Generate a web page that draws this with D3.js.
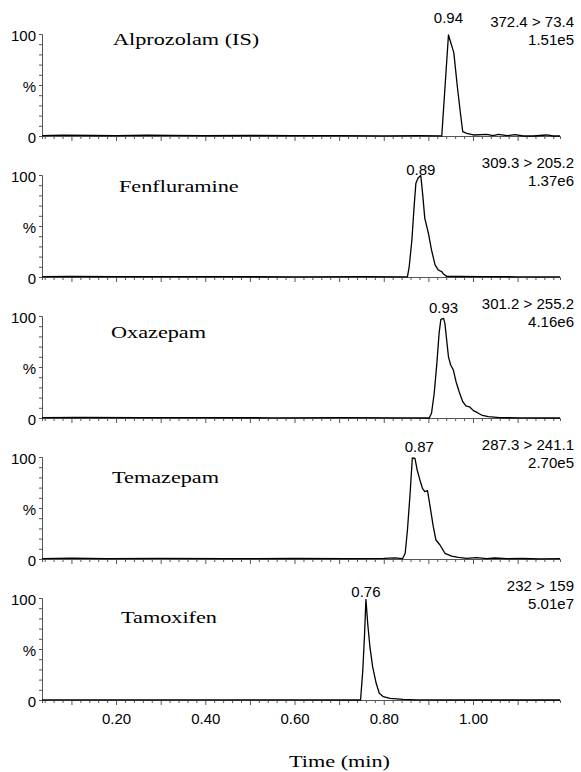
<!DOCTYPE html>
<html>
<head>
<meta charset="utf-8">
<script src="https://cdn.jsdelivr.net/npm/d3@7"></script>
<style>
  body { margin: 0; background: #fff; }
  svg { display: block; }
  .axis path, .axis line { stroke: #555; }
  .axis text { font-family: "Liberation Sans", Arial, sans-serif; font-size: 15px; fill: #000; }
  .sans { font-family: "Liberation Sans", Arial, sans-serif; font-size: 15px; fill: #000; }
  .serif { font-family: "Liberation Serif", "Times New Roman", serif; font-size: 17.5px; fill: #000; }
</style>
</head>
<body>
<svg id="chart" width="581" height="772"></svg>
<script>
// chart values
const compounds = ['Alprozolam (IS)', 'Fenfluramine', 'Oxazepam', 'Temazepam', 'Tamoxifen'];
const transitions = ['372.4 > 73.4', '309.3 > 205.2', '301.2 > 255.2', '287.3 > 241.1', '232 > 159'];
const intensities = ['1.51e5', '1.37e6', '4.16e6', '2.70e5', '5.01e7'];
const peakTimes = ['0.94', '0.89', '0.93', '0.87', '0.76'];
const xTickLabels = [0.2, 0.4, 0.6, 0.8, 1.0];

// [time (min), %]
const alprozolamTrace = [[0.034,0.4],[0.08,0.8],[0.15,0.5],[0.2,0.3],[0.27,0.9],[0.32,0.6],[0.4,0.3],[0.5,0.5],
  [0.6,0.3],[0.7,0.4],[0.8,0.2],[0.88,0.3],[0.928,0.2],[0.930,0],[0.945,99],[0.957,81.7],[0.965,48],[0.971,25.5],
  [0.977,4.2],[0.986,2.6],[1.001,1],[1.031,1.6],[1.045,0.3],[1.057,1.6],[1.076,0.3],[1.094,1.3],[1.113,0],
  [1.135,0],[1.165,1],[1.180,0],[1.195,0]];
const fenfluramineTrace = [[0.034,0.3],[0.1,0.5],[0.2,0.3],[0.3,0.4],[0.45,0.3],[0.6,0.2],[0.75,0.3],[0.853,0.2],
  [0.857,10],[0.863,36],[0.868,69],[0.872,92],[0.877,97],[0.883,99.5],[0.887,82],[0.892,57.5],[0.900,43],
  [0.907,26.5],[0.915,11.8],[0.922,6.9],[0.930,5.2],[0.934,2.9],[0.941,0.6],[0.97,0.5],[1.02,0.3],[1.1,0.2],[1.195,0.1]];
const oxazepamTrace = [[0.034,0.3],[0.12,0.5],[0.25,0.3],[0.4,0.4],[0.55,0.2],[0.7,0.3],[0.85,0.2],[0.902,0],
  [0.907,4.6],[0.913,24],[0.919,53.6],[0.924,83],[0.928,96.8],[0.934,97.7],[0.937,92.8],[0.941,76.5],[0.945,60],
  [0.950,52],[0.956,47],[0.962,35.6],[0.969,25.8],[0.977,16],[0.984,11.8],[0.992,11],[1.001,7.2],[1.010,5.2],
  [1.019,2.9],[1.034,1.3],[1.060,0.3],[1.105,0.2],[1.195,0]];
const temazepamTrace = [[0.034,0.4],[0.1,0.8],[0.18,0.4],[0.3,0.6],[0.45,0.4],[0.6,0.5],[0.72,0.3],[0.8,0.6],
  [0.825,1.2],[0.842,0.3],[0.848,5.6],[0.853,28],[0.859,64],[0.864,99],[0.870,98.7],[0.875,87],[0.881,77.5],
  [0.887,69],[0.892,66],[0.898,67],[0.904,51],[0.911,31.7],[0.917,18.6],[0.926,13.7],[0.937,5.6],[0.952,2.9],
  [0.967,1.6],[0.986,0.6],[1.008,1.3],[1.031,0.3],[1.049,1],[1.076,0.3],[1.11,0.5],[1.15,0.2],[1.195,0.3]];
const tamoxifenTrace = [[0.034,0.2],[0.2,0.2],[0.4,0.2],[0.6,0.2],[0.748,0],[0.753,29],[0.757,65],[0.760,98.7],
  [0.764,75],[0.769,52],[0.775,32.7],[0.783,16.4],[0.790,6.6],[0.799,3.3],[0.814,1.6],[0.844,0.7],[0.874,0.1],
  [1.0,0],[1.195,0]];
const traces = [alprozolamTrace, fenfluramineTrace, oxazepamTrace, temazepamTrace, tamoxifenTrace];

// layout tweaks per panel (pixels)
const nameX = [113, 119, 111, 112, 121];
const nameDy = [-91, -85, -80, -76, -77];
const peakDy = [-112.7, -102, -104.7, -107.3, -102.7];
const peakDx = [0, 0, 0, 7, 0];

const width = 581;
const left = 42, right = 560;
const firstBase = 136, step = 141, panelH = 102;
const serifStretch = 1.27;

const svg = d3.select('#chart');

const x = d3.scaleLinear()
  .domain([0.034, 1.195])
  .range([left, right]);

const tickVals = d3.range(2, 60).map(i => i / 50);
const isMajor = v => Math.abs(v * 10 - Math.round(v * 10)) < 1e-6;
const isLabel = v => xTickLabels.some(l => Math.abs(l - v) < 1e-6);

const line = d3.line().x(d => x(d[0]));

traces.forEach((trace, i) => {
  const base = firstBase + step * i;
  const y = d3.scaleLinear().domain([0, 100]).range([base, base - panelH]);
  const g = svg.append('g').attr('class', 'panel');
  const last = i === traces.length - 1;

  // x axis
  const xAxisG = g.append('g')
    .attr('class', 'axis xAxis')
    .attr('transform', `translate(0, ${base})`)
    .call(d3.axisBottom(x)
      .tickValues(tickVals)
      .tickSizeOuter(0)
      .tickSize(3)
      .tickFormat(d => (last && isLabel(d)) ? d3.format('.2f')(d) : ''));
  xAxisG.selectAll('.tick line').attr('y2', d => isMajor(d) ? 5 : 3);
  xAxisG.selectAll('.tick text').attr('y', 13).attr('dy', '0.71em');

  // y axis
  const yAxisG = g.append('g')
    .attr('class', 'axis yAxis')
    .attr('transform', `translate(${left}, 0)`)
    .call(d3.axisLeft(y)
      .tickValues(d3.range(0, 101, 10))
      .tickSizeOuter(0)
      .tickSize(3)
      .tickFormat(d => d === 100 ? '100' : d === 50 ? '%' : d === 0 ? '0' : ''));
  yAxisG.selectAll('.tick text').attr('dy', '0.46em');

  // trace
  g.append('path')
    .datum(trace)
    .attr('fill', 'none')
    .attr('stroke', '#000')
    .attr('stroke-width', 1.3)
    .attr('stroke-linejoin', 'round')
    .attr('d', line.y(d => y(d[1])));

  // peak label over the apex
  const apex = trace[d3.maxIndex(trace, d => d[1])];
  g.append('text')
    .attr('class', 'sans')
    .attr('x', x(apex[0]) + peakDx[i])
    .attr('y', base + peakDy[i])
    .attr('text-anchor', 'middle')
    .text(peakTimes[i]);

  // transition + intensity, right aligned
  g.append('text')
    .attr('class', 'sans')
    .attr('x', 574)
    .attr('y', base - 109)
    .attr('text-anchor', 'end')
    .text(transitions[i]);
  g.append('text')
    .attr('class', 'sans')
    .attr('x', 574)
    .attr('y', base - 91.5)
    .attr('text-anchor', 'end')
    .text(intensities[i]);

  // compound name
  g.append('text')
    .attr('class', 'serif')
    .attr('transform', `translate(${nameX[i]}, ${base + nameDy[i]}) scale(${serifStretch}, 1)`)
    .text(compounds[i]);
});

svg.append('text')
  .attr('class', 'serif')
  .attr('transform', `translate(339.5, 766.5) scale(${serifStretch}, 1)`)
  .attr('text-anchor', 'middle')
  .text('Time (min)');
</script>
</body>
</html>
